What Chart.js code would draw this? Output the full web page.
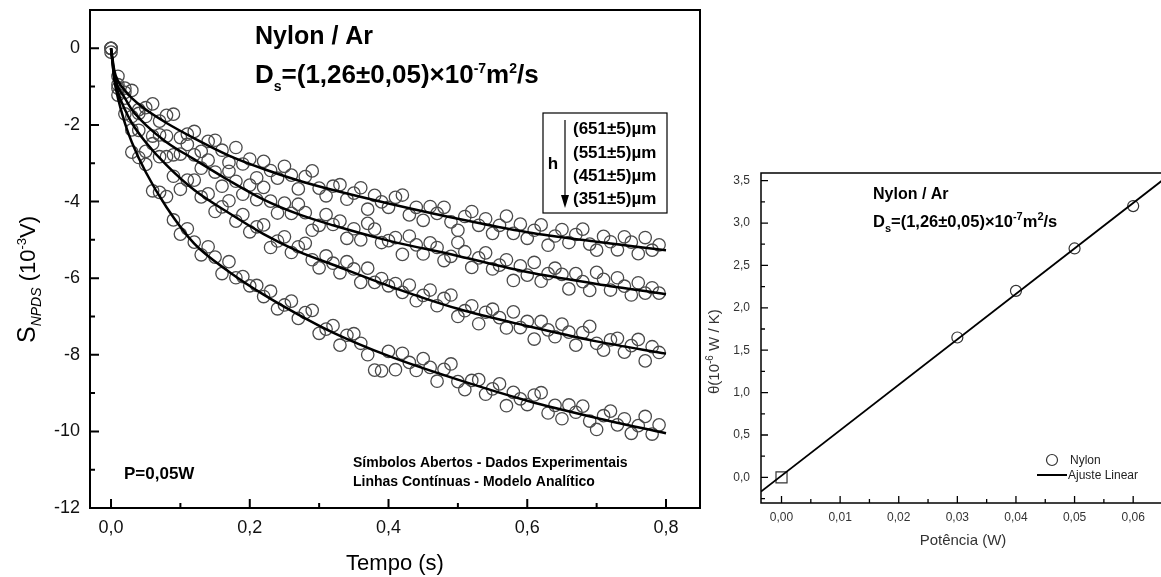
<!DOCTYPE html>
<html>
<head>
<meta charset="utf-8">
<script src="https://cdn.jsdelivr.net/npm/chart.js@4.4.1/dist/chart.umd.min.js"></script>
<style>
  html, body { margin: 0; padding: 0; background: #fff; overflow: hidden; width: 1161px; height: 577px; }
  #leftChart { position: absolute; left: 0; top: 0; }
  #rightChart { position: absolute; left: 700px; top: 0; }
</style>
</head>
<body>
<canvas id="leftChart" width="720" height="577"></canvas>
<canvas id="rightChart" width="475" height="577"></canvas>
<script>
  // ---- left chart: S_NPDS vs tempo, four heights ----
  var tempo = [0,0.01,0.02,0.03,0.04,0.05,0.06,0.07,0.08,0.09,0.1,0.11,0.12,0.13,0.14,0.15,0.16,0.17,0.18,0.19,
    0.2,0.21,0.22,0.23,0.24,0.25,0.26,0.27,0.28,0.29,0.3,0.31,0.32,0.33,0.34,0.35,0.36,0.37,0.38,0.39,
    0.4,0.41,0.42,0.43,0.44,0.45,0.46,0.47,0.48,0.49,0.5,0.51,0.52,0.53,0.54,0.55,0.56,0.57,0.58,0.59,
    0.6,0.61,0.62,0.63,0.64,0.65,0.66,0.67,0.68,0.69,0.7,0.71,0.72,0.73,0.74,0.75,0.76,0.77,0.78,0.79];

  var h651 = [0.00,-0.73,-1.15,-1.10,-1.60,-1.55,-1.45,-1.90,-1.75,-1.72,
    -2.33,-2.24,-2.17,-2.69,-2.43,-2.40,-2.66,-2.98,-2.59,-3.02,
    -2.89,-3.38,-2.95,-3.19,-3.39,-3.08,-3.31,-3.67,-3.35,-3.20,
    -3.65,-3.85,-3.60,-3.56,-3.94,-3.78,-3.64,-4.20,-3.84,-4.01,
    -4.15,-3.89,-3.83,-4.35,-4.15,-4.49,-4.13,-4.31,-4.15,-4.53,
    -4.75,-4.39,-4.26,-4.62,-4.45,-4.83,-4.62,-4.38,-4.83,-4.59,
    -4.96,-4.75,-4.61,-5.14,-4.90,-4.73,-5.07,-4.86,-4.72,-5.11,
    -5.27,-4.91,-5.05,-5.26,-4.92,-5.06,-5.36,-4.94,-5.27,-5.13];

  var h551 = [-0.10,-1.04,-1.04,-1.78,-1.70,-1.78,-2.29,-2.26,-2.29,-2.78,
    -2.76,-2.51,-2.78,-3.13,-2.92,-3.23,-3.60,-3.21,-3.47,-3.81,
    -3.57,-3.95,-3.63,-3.99,-4.30,-4.04,-4.31,-4.07,-4.29,-4.75,
    -4.62,-4.34,-4.60,-4.51,-4.96,-4.71,-5.00,-4.57,-4.72,-5.07,
    -5.02,-4.94,-5.38,-4.90,-5.13,-5.37,-5.08,-5.20,-5.54,-5.43,
    -5.07,-5.31,-5.72,-5.47,-5.34,-5.76,-5.66,-5.52,-6.06,-5.68,
    -5.92,-5.59,-6.08,-5.88,-5.74,-5.90,-6.28,-5.88,-6.09,-6.32,
    -5.85,-6.03,-6.31,-5.99,-6.21,-6.44,-6.12,-6.39,-6.25,-6.39];

  var h451 = [0.00,-0.95,-1.30,-2.13,-2.14,-2.69,-2.49,-2.83,-2.83,-3.34,
    -3.68,-3.44,-3.44,-3.88,-3.80,-4.26,-4.14,-3.98,-4.51,-4.34,
    -4.79,-4.66,-4.61,-5.20,-5.03,-4.92,-5.33,-5.18,-5.09,-5.52,
    -5.73,-5.42,-5.61,-5.86,-5.57,-5.76,-6.11,-5.74,-6.11,-6.01,
    -6.20,-6.14,-6.37,-6.18,-6.59,-6.45,-6.31,-6.72,-6.53,-6.44,
    -7.00,-6.85,-6.72,-7.19,-6.89,-6.81,-7.03,-7.30,-6.88,-7.29,
    -7.13,-7.59,-7.13,-7.35,-7.53,-7.20,-7.41,-7.75,-7.42,-7.26,
    -7.70,-7.88,-7.61,-7.57,-7.93,-7.76,-7.60,-8.16,-7.79,-7.94];

  var h351 = [0.00,-1.22,-1.71,-2.71,-2.85,-3.03,-3.72,-3.76,-3.87,-4.48,
    -4.85,-4.71,-5.06,-5.39,-5.18,-5.45,-5.88,-5.57,-5.99,-5.96,
    -6.20,-6.19,-6.48,-6.34,-6.80,-6.70,-6.60,-7.05,-6.90,-6.84,
    -7.44,-7.33,-7.24,-7.75,-7.49,-7.45,-7.70,-8.00,-8.40,-8.42,
    -7.91,-8.39,-7.96,-8.20,-8.41,-8.10,-8.33,-8.69,-8.38,-8.24,
    -8.70,-8.91,-8.67,-8.65,-9.03,-8.89,-8.76,-9.33,-8.98,-9.15,
    -9.30,-9.05,-8.99,-9.52,-9.32,-9.67,-9.31,-9.50,-9.34,-9.73,
    -9.95,-9.59,-9.47,-9.83,-9.67,-10.05,-9.85,-9.61,-10.07,-9.83];

  // modelo analitico (linhas continuas)
  var fitTempo = [0, 0.005, 0.01, 0.02, 0.03, 0.05, 0.08, 0.12, 0.17, 0.22, 0.27, 0.32, 0.4, 0.5, 0.6, 0.7, 0.8];
  var fit651 = [0, -0.6, -0.85, -1.1, -1.3, -1.6, -1.95, -2.35, -2.8, -3.15, -3.45, -3.7, -4.05, -4.45, -4.8, -5.05, -5.27];
  var fit551 = [0, -0.7, -1.0, -1.3, -1.6, -2.0, -2.45, -2.9, -3.45, -3.95, -4.33, -4.62, -5.02, -5.42, -5.84, -6.15, -6.42];
  var fit451 = [0, -0.8, -1.15, -1.6, -1.95, -2.45, -3.05, -3.7, -4.3, -4.85, -5.3, -5.65, -6.2, -6.8, -7.25, -7.65, -7.97];
  var fit351 = [0, -0.85, -1.3, -1.95, -2.45, -3.23, -4.15, -5.1, -5.83, -6.43, -6.95, -7.42, -8.03, -8.65, -9.2, -9.65, -10.05];

  var leftXMajor = [0, 0.2, 0.4, 0.6, 0.8];
  var leftXMinor = [0.1, 0.3, 0.5, 0.7];
  var leftYMajor = [-12, -10, -8, -6, -4, -2, 0];
  var leftYMinor = [-11, -9, -7, -5, -3, -1];
  var alturas = ['(651\u00b15)\u00b5m', '(551\u00b15)\u00b5m', '(451\u00b15)\u00b5m', '(351\u00b15)\u00b5m'];

  // ---- right chart: theta vs potencia ----
  var potencia = [0, 0.03, 0.04, 0.05, 0.06];
  var theta = [0, 1.65, 2.2, 2.7, 3.2];
  var ajusteX = [-0.0035, 0.0656];
  var ajusteY = [-0.168, 3.536];

  var rightXMajor = [0, 0.01, 0.02, 0.03, 0.04, 0.05, 0.06];
  var rightXMinor = [0.005, 0.015, 0.025, 0.035, 0.045, 0.055];
  var rightYMajor = [0, 0.5, 1, 1.5, 2, 2.5, 3, 3.5];
  var rightYMinor = [-0.25, 0.25, 0.75, 1.25, 1.75, 2.25, 2.75, 3.25];

  var FF = '"Liberation Sans", Arial, Helvetica, sans-serif';
  Chart.defaults.font.family = FF;

  function fmt(d) { return function (v) { return d === 0 ? String(v) : v.toFixed(d).replace('.', ','); }; }
  function pts(xs, ys) { return xs.map(function (x, i) { return { x: x, y: ys[i] }; }); }
  function fixTicks(vals) { return function (scale) { scale.ticks = vals.map(function (v) { return { value: v }; }); }; }
  // pin the axis box size and drop the label overhang padding
  function pinBox(prop, size) {
    return function (s) {
      s[prop] = size;
      s.paddingTop = 0; s.paddingBottom = 0; s.paddingLeft = 0; s.paddingRight = 0;
    };
  }

  function drawParts(ctx, x, y, parts) {
    parts.forEach(function (p) {
      ctx.font = p[1];
      ctx.fillText(p[0], x, y + (p[2] || 0));
      x += ctx.measureText(p[0]).width;
    });
    return x;
  }

  function frameAndTicks(chart, o) {
    var ctx = chart.ctx, a = chart.chartArea, xs = chart.scales.x, ys = chart.scales.y;
    ctx.save();
    ctx.strokeStyle = '#000';
    ctx.lineWidth = o.frame;
    ctx.strokeRect(a.left, a.top, a.right - a.left, a.bottom - a.top);
    ctx.lineWidth = o.tick;
    ctx.beginPath();
    o.xMajor.forEach(function (v) { var p = xs.getPixelForValue(v); ctx.moveTo(p, a.bottom); ctx.lineTo(p, a.bottom - o.major); });
    o.xMinor.forEach(function (v) { var p = xs.getPixelForValue(v); ctx.moveTo(p, a.bottom); ctx.lineTo(p, a.bottom - o.minor); });
    o.yMajor.forEach(function (v) { var p = ys.getPixelForValue(v); ctx.moveTo(a.left, p); ctx.lineTo(a.left + o.major, p); });
    o.yMinor.forEach(function (v) { var p = ys.getPixelForValue(v); ctx.moveTo(a.left, p); ctx.lineTo(a.left + o.minor, p); });
    ctx.stroke();
    ctx.restore();
  }

  var leftDecor = {
    id: 'leftDecor',
    afterDraw: function (chart) {
      var ctx = chart.ctx;
      frameAndTicks(chart, { frame: 2, tick: 2, major: 9, minor: 5,
        xMajor: leftXMajor, xMinor: leftXMinor, yMajor: leftYMajor, yMinor: leftYMinor });
      ctx.save();
      ctx.fillStyle = '#000';
      ctx.textBaseline = 'alphabetic';
      ctx.textAlign = 'left';
      drawParts(ctx, 255, 44, [['Nylon / Ar', 'bold 25px ' + FF]]);
      drawParts(ctx, 255, 83, [
        ['D', 'bold 26px ' + FF], ['s', 'bold 14px ' + FF, 8],
        ['=(1,26\u00b10,05)\u00d710', 'bold 26px ' + FF], ['-7', 'bold 14px ' + FF, -10],
        ['m', 'bold 26px ' + FF], ['2', 'bold 14px ' + FF, -10], ['/s', 'bold 26px ' + FF]]);

      // legenda das alturas
      ctx.strokeStyle = '#000';
      ctx.lineWidth = 1.2;
      ctx.strokeRect(543, 113, 124, 100);
      ctx.beginPath();
      ctx.moveTo(565, 120); ctx.lineTo(565, 198);
      ctx.stroke();
      ctx.beginPath();
      ctx.moveTo(561, 195); ctx.lineTo(569, 195); ctx.lineTo(565, 208); ctx.closePath();
      ctx.fill();
      ctx.font = 'bold 17px ' + FF;
      ctx.textAlign = 'center';
      ctx.fillText('h', 553, 169);
      ctx.textAlign = 'left';
      [134, 158, 181, 204].forEach(function (y, i) { ctx.fillText(alturas[i], 573, y); });

      ctx.fillText('P=0,05W', 124, 479);
      ctx.font = 'bold 14px ' + FF;
      ctx.fillText('S\u00edmbolos Abertos - Dados Experimentais', 353, 467);
      ctx.fillText('Linhas Cont\u00ednuas - Modelo Anal\u00edtico', 353, 486);

      ctx.font = '22px ' + FF;
      ctx.textAlign = 'center';
      ctx.fillText('Tempo (s)', 395, 570);

      ctx.textAlign = 'left';
      ctx.translate(35, 343);
      ctx.rotate(-Math.PI / 2);
      drawParts(ctx, 0, 0, [
        ['S', '25px ' + FF], ['NPDS', 'italic 14px ' + FF, 6],
        [' (10', '22px ' + FF], ['-3', '13px ' + FF, -9], ['V)', '22px ' + FF]]);
      ctx.restore();
    }
  };

  function scatterSet(vals) {
    return { data: pts(tempo, vals), pointRadius: 6.2, pointBorderWidth: 1.3,
      pointBorderColor: '#4a4a4a', pointBackgroundColor: 'rgba(0,0,0,0)', showLine: false, order: 2 };
  }
  function fitSet(vals) {
    return { data: pts(fitTempo, vals), showLine: true, pointRadius: 0, borderColor: '#000',
      borderWidth: 2.5, cubicInterpolationMode: 'monotone', fill: false, order: 1 };
  }

  new Chart(document.getElementById('leftChart'), {
    type: 'scatter',
    data: {
      datasets: [scatterSet(h651), scatterSet(h551), scatterSet(h451), scatterSet(h351),
        fitSet(fit651), fitSet(fit551), fitSet(fit451), fitSet(fit351)]
    },
    options: {
      responsive: false,
      animation: false,
      devicePixelRatio: 1,
      layout: { padding: { top: 10, right: 20, left: 0, bottom: 0 } },
      plugins: { legend: { display: false }, tooltip: { enabled: false } },
      scales: {
        x: {
          type: 'linear', min: -0.0303, max: 0.849,
          grid: { display: false, drawTicks: false }, border: { display: false },
          afterBuildTicks: fixTicks(leftXMajor),
          afterFit: pinBox('height', 69),
          ticks: { callback: fmt(1), font: { size: 18 }, color: '#111', padding: 9, maxRotation: 0, autoSkip: false }
        },
        y: {
          type: 'linear', min: -12, max: 1,
          grid: { display: false, drawTicks: false }, border: { display: false },
          afterBuildTicks: fixTicks(leftYMajor),
          afterFit: pinBox('width', 90),
          ticks: { callback: fmt(0), font: { size: 18 }, color: '#111', padding: 10, autoSkip: false }
        }
      }
    },
    plugins: [leftDecor]
  });

  var rightDecor = {
    id: 'rightDecor',
    afterDraw: function (chart) {
      var ctx = chart.ctx;
      frameAndTicks(chart, { frame: 1.5, tick: 1.3, major: 7, minor: 4,
        xMajor: rightXMajor, xMinor: rightXMinor, yMajor: rightYMajor, yMinor: rightYMinor });
      ctx.save();
      ctx.fillStyle = '#000';
      ctx.textAlign = 'left';
      drawParts(ctx, 173, 199, [['Nylon / Ar', 'bold 16px ' + FF]]);
      drawParts(ctx, 173, 227, [
        ['D', 'bold 16.5px ' + FF], ['s', 'bold 11px ' + FF, 5],
        ['=(1,26\u00b10,05)\u00d710', 'bold 16.5px ' + FF], ['-7', 'bold 11px ' + FF, -7],
        ['m', 'bold 16.5px ' + FF], ['2', 'bold 11px ' + FF, -7], ['/s', 'bold 16.5px ' + FF]]);

      // legenda
      ctx.strokeStyle = '#333';
      ctx.lineWidth = 1.2;
      ctx.beginPath();
      ctx.arc(352, 460, 5.5, 0, Math.PI * 2);
      ctx.stroke();
      ctx.strokeStyle = '#000';
      ctx.lineWidth = 2;
      ctx.beginPath();
      ctx.moveTo(337, 475); ctx.lineTo(367, 475);
      ctx.stroke();
      ctx.font = '12px ' + FF;
      ctx.fillStyle = '#222';
      ctx.fillText('Nylon', 370, 464);
      ctx.fillText('Ajuste Linear', 368, 479);

      ctx.font = '15px ' + FF;
      ctx.fillStyle = '#333';
      ctx.textAlign = 'center';
      ctx.fillText('Pot\u00eancia (W)', 263, 545);

      ctx.textAlign = 'left';
      ctx.translate(19, 394);
      ctx.rotate(-Math.PI / 2);
      drawParts(ctx, 0, 0, [['\u03b8(10', '15px ' + FF], ['-6', '10px ' + FF, -6], [' W / K)', '15px ' + FF]]);
      ctx.restore();
    }
  };

  new Chart(document.getElementById('rightChart'), {
    type: 'scatter',
    data: {
      datasets: [
        { data: pts(ajusteX, ajusteY), showLine: true, pointRadius: 0, borderColor: '#000', borderWidth: 1.8, order: 1 },
        { data: pts(potencia, theta), pointStyle: ['rect', 'circle', 'circle', 'circle', 'circle'],
          pointRadius: [7.8, 5.5, 5.5, 5.5, 5.5], pointBorderWidth: 1.2, pointBorderColor: '#333',
          pointBackgroundColor: 'rgba(0,0,0,0)', order: 2 }
      ]
    },
    options: {
      responsive: false,
      animation: false,
      devicePixelRatio: 1,
      layout: { padding: { top: 173, right: 5, left: 0, bottom: 0 } },
      plugins: { legend: { display: false }, tooltip: { enabled: false } },
      scales: {
        x: {
          type: 'linear', min: -0.0035, max: 0.0656,
          grid: { display: false, drawTicks: false }, border: { display: false },
          afterBuildTicks: fixTicks(rightXMajor),
          afterFit: pinBox('height', 74),
          ticks: { callback: fmt(2), font: { size: 12 }, color: '#333', padding: 7, maxRotation: 0, autoSkip: false }
        },
        y: {
          type: 'linear', min: -0.302, max: 3.59,
          grid: { display: false, drawTicks: false }, border: { display: false },
          afterBuildTicks: fixTicks(rightYMajor),
          afterFit: pinBox('width', 61),
          ticks: { callback: fmt(1), font: { size: 12 }, color: '#333', padding: 11, autoSkip: false }
        }
      }
    },
    plugins: [rightDecor]
  });
</script>
</body>
</html>
